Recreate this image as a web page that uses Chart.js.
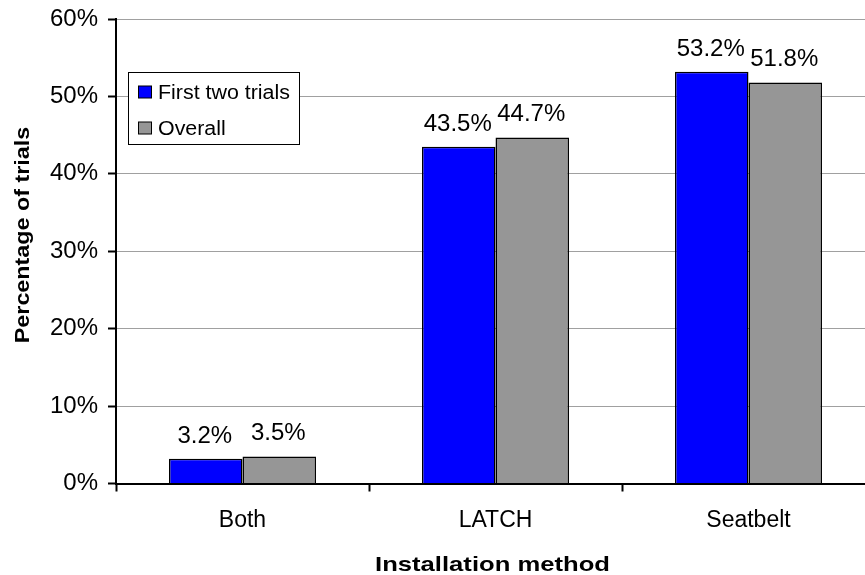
<!DOCTYPE html>
<html>
<head>
<meta charset="utf-8">
<script src="https://cdn.jsdelivr.net/npm/chart.js@4.4.0/dist/chart.umd.min.js"></script>
<style>
html, body { margin: 0; padding: 0; background: #fff; overflow: hidden; width: 865px; height: 575px; }
canvas { display: block; }
</style>
</head>
<body>
<canvas id="c" width="880" height="575"></canvas>
<script>
const categories = ["Both", "LATCH", "Seatbelt"];
const firstTwoTrials = [3.2, 43.5, 53.2];
const overall = [3.5, 44.7, 51.8];
const seriesNames = ["First two trials", "Overall"];
const seriesColors = ["#0000FF", "#969696"];
const yTicks = [0, 10, 20, 30, 40, 50, 60];
const xTitle = "Installation method";
const yTitle = "Percentage of trials";

const FONT = "'Liberation Sans', Arial, sans-serif";

const valueLabels = {
  id: 'valueLabels',
  afterDatasetsDraw(chart) {
    const ctx = chart.ctx;
    ctx.save();
    ctx.font = "24px " + FONT;
    ctx.fillStyle = "#000";
    ctx.textAlign = "center";
    ctx.textBaseline = "alphabetic";
    chart.data.datasets.forEach((ds, i) => {
      const meta = chart.getDatasetMeta(i);
      meta.data.forEach((el, j) => {
        ctx.fillText(ds.data[j].toFixed(1) + "%", el.x - 1, el.y - 16);
      });
    });
    ctx.restore();
  }
};

const axisTitles = {
  id: 'axisTitles',
  afterDraw(chart) {
    const ctx = chart.ctx;
    ctx.save();
    ctx.fillStyle = "#000";
    ctx.font = "bold 21px " + FONT;
    ctx.textAlign = "center";
    ctx.textBaseline = "alphabetic";
    ctx.save();
    ctx.translate(492.5, 571);
    ctx.scale(1.22, 1);
    ctx.fillText(xTitle, 0, 0);
    ctx.restore();
    ctx.save();
    ctx.translate(29, 235);
    ctx.rotate(-Math.PI / 2);
    ctx.scale(1.11, 1);
    ctx.fillText(yTitle, 0, 0);
    ctx.restore();
    ctx.restore();
  }
};

const boxLegend = {
  id: 'boxLegend',
  afterDraw(chart) {
    const ctx = chart.ctx;
    ctx.save();
    ctx.fillStyle = "#fff";
    ctx.fillRect(128.5, 72.5, 171, 72);
    ctx.strokeStyle = "#000";
    ctx.lineWidth = 1;
    ctx.strokeRect(128.5, 72.5, 171, 72);
    ctx.font = "20px " + FONT;
    ctx.textAlign = "left";
    ctx.textBaseline = "alphabetic";
    const rows = [92, 128];
    seriesNames.forEach((name, i) => {
      const cy = rows[i];
      ctx.fillStyle = seriesColors[i];
      ctx.fillRect(138.5, cy - 6, 13, 12);
      ctx.strokeStyle = "#000";
      ctx.strokeRect(138.5, cy - 6, 13, 12);
      ctx.fillStyle = "#000";
      ctx.save();
      ctx.translate(158, cy + 7);
      ctx.scale(1.07, 1);
      ctx.fillText(name, 0, 0);
      ctx.restore();
    });
    ctx.restore();
  }
};

new Chart(document.getElementById('c'), {
  type: 'bar',
  data: {
    labels: categories,
    datasets: [
      { label: seriesNames[0], data: firstTwoTrials, backgroundColor: seriesColors[0], borderColor: "#000", borderWidth: 1.5, borderSkipped: 'bottom' },
      { label: seriesNames[1], data: overall, backgroundColor: seriesColors[1], borderColor: "#000", borderWidth: 1.5, borderSkipped: 'bottom' }
    ]
  },
  options: {
    responsive: false,
    animation: false,
    devicePixelRatio: 1,
    layout: { padding: { top: 19, right: 5, left: 0, bottom: 0 } },
    plugins: { legend: { display: false }, tooltip: { enabled: false } },
    datasets: { bar: { categoryPercentage: 0.581, barPercentage: 1.0 } },
    scales: {
      x: {
        offset: true,
        grid: { display: true, drawOnChartArea: false, drawTicks: true, tickLength: 8, offset: true, tickColor: "#000", tickWidth: 2 },
        border: { display: true, color: "#000", width: 2 },
        ticks: { color: "#000", font: { family: FONT, size: 23 }, padding: 15 },
        title: { display: false },
        afterFit(scale) { scale.height = 91.5; scale.paddingLeft = 0; scale.paddingRight = 0; }
      },
      y: {
        min: 0, max: 60,
        afterBuildTicks(scale) { scale.ticks = yTicks.map(v => ({ value: v })); },
        grid: { color: "#a0a0a0", lineWidth: 1, tickLength: 8, tickColor: "#000", tickWidth: 2 },
        border: { display: true, color: "#000", width: 2 },
        ticks: { color: "#000", font: { family: FONT, size: 24 }, padding: 10, callback: v => v + "%" },
        title: { display: false },
        afterFit(scale) { scale.width = 116; scale.paddingTop = 0; scale.paddingBottom = 0; }
      }
    }
  },
  plugins: [valueLabels, axisTitles, boxLegend]
});
</script>
</body>
</html>
